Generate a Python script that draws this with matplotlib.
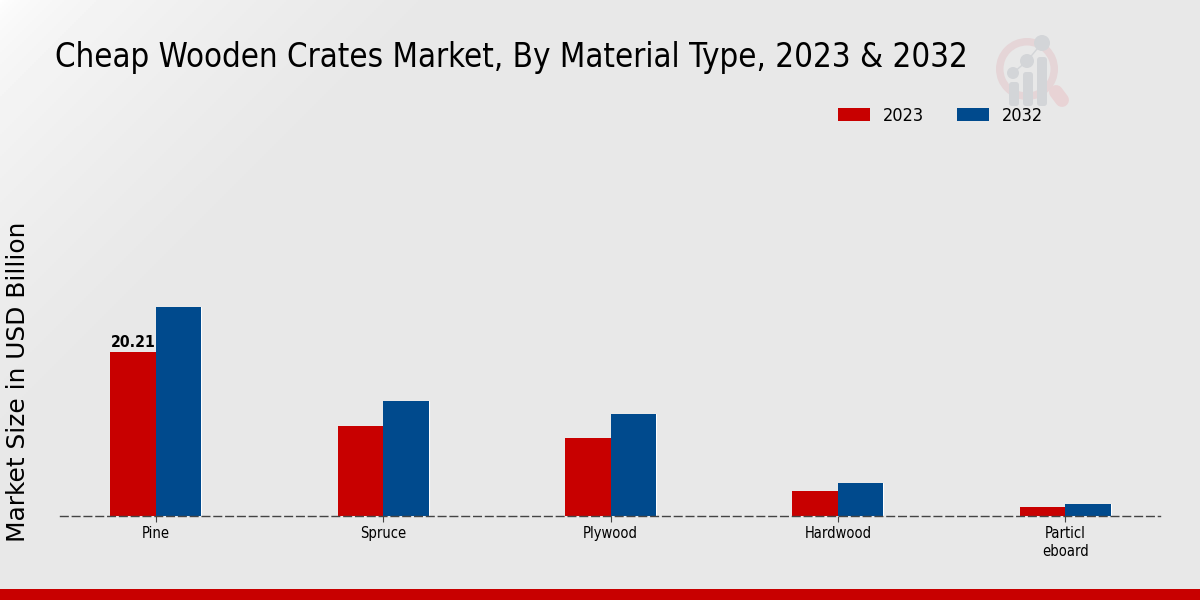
#!/usr/bin/env python3
import numpy as np
import matplotlib
matplotlib.use("Agg")
import matplotlib.pyplot as plt
from matplotlib.patches import Circle, Wedge, FancyBboxPatch

categories = ["Pine", "Spruce", "Plywood", "Hardwood", "Particl\neboard"]
years = ["2023", "2032"]
values_2023 = [20.21, 11.1, 9.6, 3.1, 1.1]
values_2032 = [25.75, 14.2, 12.6, 4.07, 1.5]
colors = ["#c80000", "#004a8d"]

title = "Cheap Wooden Crates Market, By Material Type, 2023 & 2032"
ylabel = "Market Size in USD Billion"

plt.rcParams["font.family"] = "DejaVu Sans"

fig = plt.figure(figsize=(12, 6), dpi=100)

# background, white corner top left going to light grey
bg = fig.add_axes([0, 0, 1, 1], zorder=0)
yy, xx = np.mgrid[0:1:300j, 0:1:600j]
shade = 1 - np.clip((xx * 2 + yy) / 0.7, 0, 1) ** 0.5
shade = 0.91 + 0.09 * shade
bg.imshow(shade, cmap="gray", vmin=0, vmax=1, extent=[0, 1200, 600, 0], aspect="auto")
bg.set_xlim(0, 1200)
bg.set_ylim(600, 0)
bg.axis("off")

# red strip at the bottom
bg.fill_between([0, 1200], 589, 600, color="#c80000", lw=0)

# watermark logo
bg.add_patch(Wedge((1027, 69), 31, 0, 360, width=7.5, color="#e5d5d7", lw=0))
bg.plot([1056, 1062], [92, 100], color="#e8d3d5", lw=10, solid_capstyle="round")
for x, top in [(1014, 82), (1028, 72), (1042, 57)]:
    bg.add_patch(FancyBboxPatch((x - 2, top + 3), 4, 100 - top,
                                boxstyle="round,pad=3", color="#d3d5d8", lw=0))
bg.plot([1013, 1027, 1042], [73, 61, 43], color="#d3d5d8", lw=1)
for x, y, r in [(1013, 73, 6), (1027, 61, 7), (1042, 43, 8)]:
    bg.add_patch(Circle((x, y), r, color="#d3d5d8", lw=0))

# main axes: x 60..1160, baseline at y=516
ax = fig.add_axes([60 / 1200, 84 / 600, 1100 / 1200, 386 / 600], zorder=1)
ax.patch.set_alpha(0)

x = np.arange(len(categories))
width = 0.2
# thin white halo under the bars
ax.bar(x - width / 2, values_2023, width, color="white", edgecolor="white", linewidth=0.8, zorder=1)
ax.bar(x + width / 2, values_2032, width, color="white", edgecolor="white", linewidth=0.8, zorder=1)
bars_a = ax.bar(x - width / 2, values_2023, width, color=colors[0], linewidth=0, label=years[0], zorder=2)
bars_b = ax.bar(x + width / 2, values_2032, width, color=colors[1], linewidth=0, label=years[1], zorder=2)

ax.text(x[0] - width / 2 + 0.002, values_2023[0] + 0.2, "%.2f" % values_2023[0], ha="center", va="bottom",
        fontsize=11.3, fontweight="bold", fontstretch="condensed", color="black")

ax.set_xlim(-0.422, 4.417)
ax.set_ylim(0, 386 / 8.115)
ax.set_yticks([])
ax.set_xticks(x)
ax.set_xticklabels(categories, fontsize=10.5, fontstretch="condensed", color="black", linespacing=1.25)
ax.tick_params(axis="x", length=4, width=0.8, color="#444444", pad=3)
for side in ["top", "right", "left"]:
    ax.spines[side].set_visible(False)
ax.spines["bottom"].set_linestyle((0, (5.5, 3)))
ax.spines["bottom"].set_color("#444444")
ax.spines["bottom"].set_linewidth(1)
ax.spines["bottom"].set_zorder(3)

fig.text(55 / 1200, 1 - 57 / 600, title, fontsize=23.7, fontstretch="condensed",
         ha="left", va="center", color="black")
fig.text(18 / 1200, 1 - 382 / 600, ylabel, fontsize=17.95, rotation=90,
         ha="center", va="center", color="black")

leg = fig.legend(handles=[bars_a, bars_b], labels=years, ncol=2, frameon=False,
                 loc="center left", bbox_to_anchor=(822 / 1200, 1 - 116 / 600),
                 prop={"size": 13, "stretch": "condensed"},
                 handlelength=1.77, handleheight=0.75, columnspacing=1.8, handletextpad=0.72)

fig.savefig("out.png", dpi=100)
